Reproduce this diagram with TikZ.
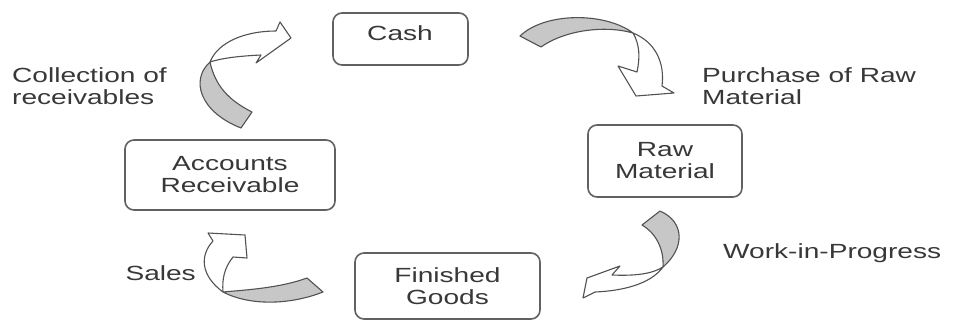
\documentclass[tikz,border=0pt]{standalone}
\usepackage{fontspec}
\setmainfont{Liberation Sans}
\usepackage{graphicx}
% horizontally widened lettering
\newcommand{\wide}[1]{\scalebox{1.37}[1]{#1}}
\begin{document}
\begin{tikzpicture}[x=1pt,y=-1pt,
  txt/.style={font=\fontsize{20.5}{22}\selectfont, text=black!78, inner sep=0pt},
  stagebox/.style={draw=black!62, line width=1.6pt, rounded corners=9pt, fill=white,
    font=\fontsize{20.5}{22}\selectfont, text=black!78, align=center, inner sep=0pt},
  band/.style={draw=black!68, line width=1.1pt, line join=round},
  backside/.style={band, fill=black!22},
  frontside/.style={band, fill=white}]
\useasboundingbox (0,0) rectangle (953,322);
\fill[white] (0,0) rectangle (953,322);

% stages of the cycle
\node[stagebox, minimum width=135, minimum height=52] (cash) at (400.5,39) {};
\node[txt] (cashtext) at (400,33) {\wide{Cash}};
\node[stagebox, minimum width=154, minimum height=72] (raw) at (665,161)
  {\wide{Raw}\\\wide{Material}};
\node[stagebox, minimum width=210, minimum height=70] (ar) at (230,175)
  {\wide{Accounts}\\\wide{Receivable}};
\node[stagebox, minimum width=185, minimum height=66] (fg) at (447.5,286)
  {\wide{Finished}\\\wide{Goods}};

% twisted ribbon arrows: grey back face, white front face with head
% Accounts Receivable -> Cash
\draw[backside] (210,62) .. controls (190,80) and (200,112) .. (241,128)
  -- (252,112) .. controls (228,100) and (215,85) .. (210,62) -- cycle;
\draw[frontside] (210,62) .. controls (218,42) and (245,31) .. (276,31)
  -- (280,22) -- (291,38) -- (256,63) -- (261,55)
  .. controls (240,56) and (222,58) .. (210,62) -- cycle;

% Cash -> Raw Material
\draw[backside] (633,33) .. controls (605,12) and (545,12) .. (520,36)
  -- (541,47) .. controls (565,30) and (605,25) .. (633,33) -- cycle;
\draw[frontside] (633,33) .. controls (655,42) and (665,62) .. (662,86)
  -- (674,93) -- (636,96) -- (618,66) -- (637,72)
  .. controls (640,58) and (640,45) .. (633,33) -- cycle;

% Raw Material -> Finished Goods
\draw[backside] (663,267) .. controls (685,248) and (685,222) .. (660,211)
  -- (642,225) .. controls (657,234) and (664,250) .. (663,267) -- cycle;
\draw[frontside] (663,267) .. controls (650,285) and (620,291) .. (595,292)
  -- (583,298) -- (587,278) -- (620,266) -- (612,275)
  .. controls (635,276) and (652,274) .. (663,267) -- cycle;

% Finished Goods -> Accounts Receivable
\draw[backside] (223,292) .. controls (245,290) and (280,288) .. (307,278)
  -- (323,292) .. controls (290,305) and (250,306) .. (223,292) -- cycle;
\draw[frontside] (223,292) .. controls (200,275) and (200,255) .. (213,241)
  -- (208,233) -- (245,235) -- (247,258) -- (233,257)
  .. controls (224,268) and (222,280) .. (223,292) -- cycle;

% flow labels
\node[txt, anchor=west, align=left] (collect) at (12,86)
  {\wide{Collection of}\\\wide{receivables}};
\node[txt, anchor=west, align=left] (purchase) at (702,86)
  {\wide{Purchase of Raw}\\\wide{Material}};
\node[txt, anchor=west] (wip) at (723,253) {\wide{Work-in-Progress}};
\node[txt, anchor=east] (sales) at (196,273) {\wide{Sales}};
\end{tikzpicture}
\end{document}
